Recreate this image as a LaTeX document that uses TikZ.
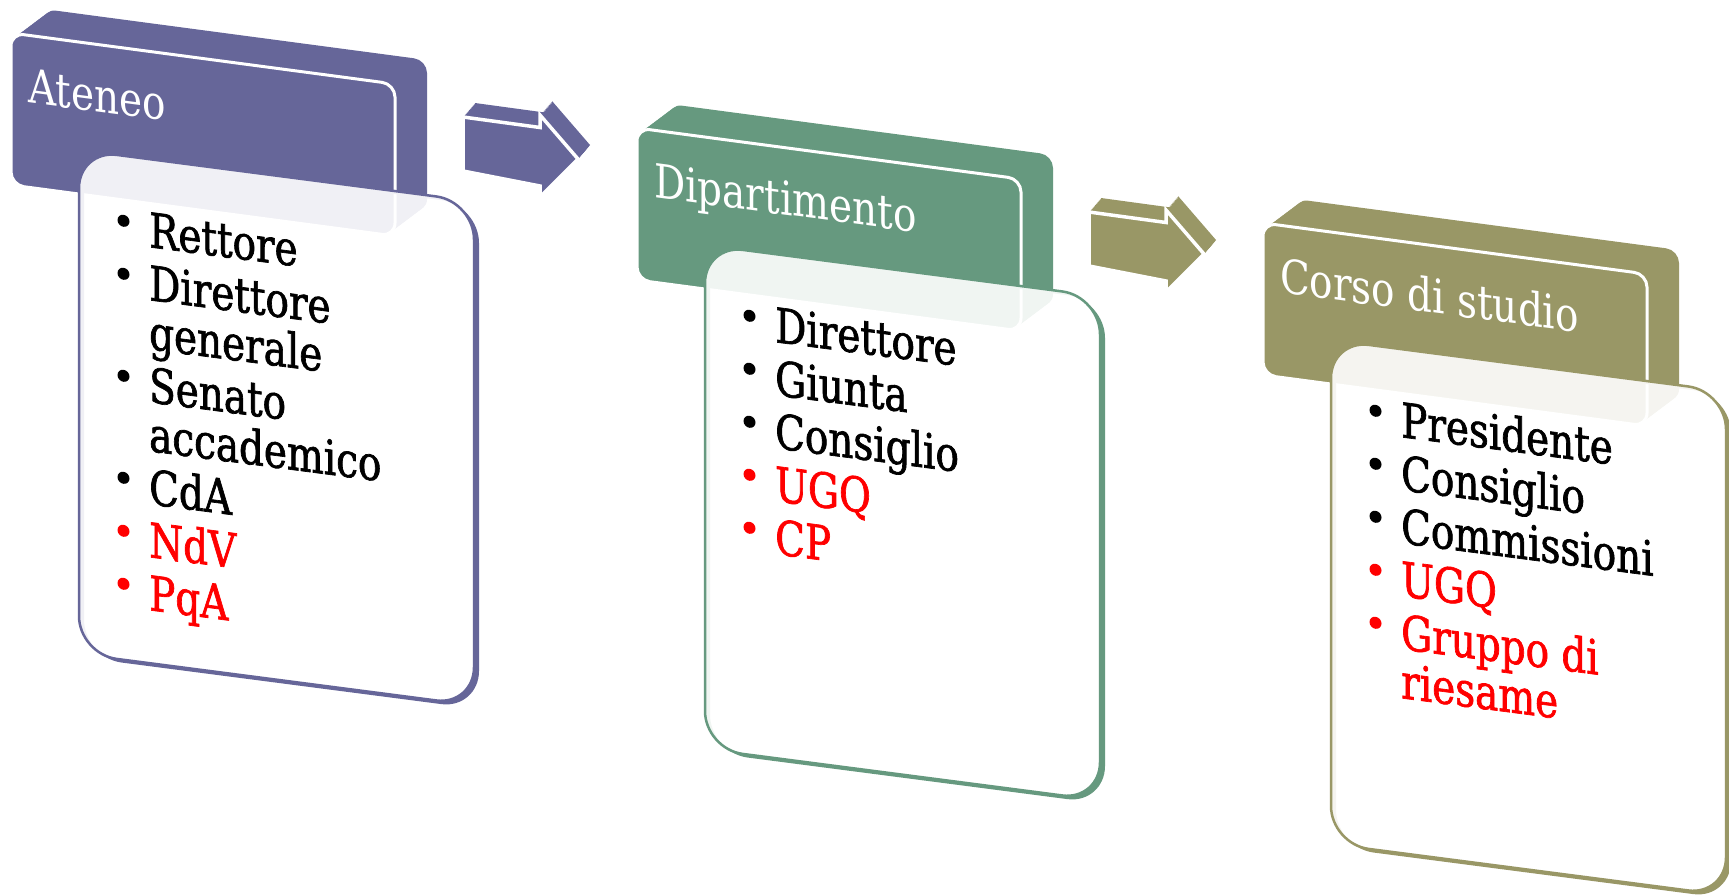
\documentclass[tikz,border=0pt]{standalone}
\usepackage{fontspec}
\setmainfont{DejaVu Serif Condensed}
\newfontfamily\hdrfont[FakeStretch=0.92]{DejaVu Serif Condensed}
\newfontfamily\bodyfont[FakeStretch=0.9, FakeBold=1.4]{DejaVu Serif Condensed}
\definecolor{cpurple}{RGB}{102,102,153}
\definecolor{cgreen}{RGB}{102,153,127}
\definecolor{colive}{RGB}{153,151,102}
\definecolor{cred}{RGB}{255,0,0}
\tikzset{
  hdrtext/.style={anchor=base west, text=white, inner sep=0pt, transform shape,
    font=\hdrfont\fontsize{47}{52}\selectfont},
  itemtext/.style={anchor=base west, inner sep=0pt, transform shape,
    font=\bodyfont\fontsize{48}{53}\selectfont},
  hdrface/.style={rounded corners=13pt},
  cardface/.style={rounded corners=38pt},
}
% header block + card for one panel: #1 colour, #2 x shift, #3 y shift
\newcommand\drawpanel[3]{%
  \begin{scope}[shift={(11+#2,-33-#3)}, cm={1,-0.133,0,1,(0,0)}]
    \foreach \t in {0,0.0625,...,1.01}{
      \fill[#1, hdrface] ({32*\t},{28.3*\t}) rectangle ++(384,-152);
    }
    \filldraw[fill=#1, draw=white, line width=3pt, hdrface] (0,0) rectangle (384,-152);
  \end{scope}
  \begin{scope}[shift={(79+#2,-150-#3)}, cm={1,-0.13,0,1,(0,0)}]
    \fill[#1, even odd rule, cardface] (5,-3) rectangle ++(395,-504) (0,0) rectangle (395,-504);
    \filldraw[fill=white, fill opacity=0.9, draw=#1, line width=2.5pt, cardface] (0,0) rectangle (395,-504);
  \end{scope}
}
\newcommand\hdrlabel[4]{% #1 name, #2 x shift, #3 y shift, #4 text
  \begin{scope}[shift={(11+#2,-33-#3)}, cm={1,-0.133,0,1,(0,0)}]
    \node[hdrtext] (#1) at (17,-67.2) {#4};
  \end{scope}}
\newcommand\bitem[4]{% #1 name, #2 baseline, #3 colour, #4 text
  \fill[#3] (44.5,{#2+23}) circle (6pt);
  \node[itemtext, text=#3] (#1) at (70,#2) {#4};}
\newcommand\contline[4]{%
  \node[itemtext, text=#3] (#1) at (70,#2) {#4};}
\newcommand\drawarrow[3]{% #1 colour, #2 x shift, #3 y shift
  \begin{scope}[shift={(#2,-#3)}]
    \foreach \t in {0,0.0625,...,1.01}{
      \fill[#1] ({463+12*\t},{-117+14*\t}) -- ({540+12*\t},{-127.5+14*\t}) -- ({540+12*\t},{-115+14*\t})
        -- ({578+12*\t},{-159+14*\t}) -- ({540+12*\t},{-197+14*\t}) -- ({540+12*\t},{-186+14*\t})
        -- ({463+12*\t},{-171+14*\t}) -- cycle;
    }
    \filldraw[fill=#1, draw=white, line width=3.5pt, line join=miter]
      (463,-117) -- (540,-127.5) -- (540,-115) -- (578,-159) -- (540,-197) -- (540,-186) -- (463,-171) -- cycle;
  \end{scope}}
\begin{document}
\begin{tikzpicture}[x=1pt,y=1pt]
\useasboundingbox (0,0) rectangle (1729,-894);
\fill[white] (0,0) rectangle (1729,-894);

% panels
\drawpanel{cpurple}{0}{0}
\drawpanel{cgreen}{626}{95}
\drawpanel{colive}{1252}{190}

% arrows between panels
\drawarrow{cpurple}{0}{0}
\drawarrow{colive}{626}{95}

% header labels
\hdrlabel{h1}{0}{0}{Ateneo}
\hdrlabel{h2}{626}{95}{Dipartimento}
\hdrlabel{h3}{1252}{190}{Corso di studio}

% card 1 items
\begin{scope}[shift={(79,-150)}, cm={1,-0.13,0,1,(0,0)}]
  \bitem{a1}{-88}{black}{Rettore}
  \bitem{a2}{-141}{black}{Direttore}
  \contline{a2b}{-190}{black}{generale}
  \bitem{a3}{-243}{black}{Senato}
  \contline{a3b}{-292}{black}{accademico}
  \bitem{a4}{-345}{black}{CdA}
  \bitem{a5}{-398}{cred}{NdV}
  \bitem{a6}{-451}{cred}{PqA}
\end{scope}

% card 2 items
\begin{scope}[shift={(79+626,-150-95)}, cm={1,-0.13,0,1,(0,0)}]
  \bitem{b1}{-88}{black}{Direttore}
  \bitem{b2}{-141}{black}{Giunta}
  \bitem{b3}{-194}{black}{Consiglio}
  \bitem{b4}{-247}{cred}{UGQ}
  \bitem{b5}{-300}{cred}{CP}
\end{scope}

% card 3 items
\begin{scope}[shift={(79+1252,-150-190)}, cm={1,-0.13,0,1,(0,0)}]
  \bitem{c1}{-88}{black}{Presidente}
  \bitem{c2}{-141}{black}{Consiglio}
  \bitem{c3}{-194}{black}{Commissioni}
  \bitem{c4}{-247}{cred}{UGQ}
  \bitem{c5}{-300}{cred}{Gruppo di}
  \contline{c5b}{-349}{cred}{riesame}
\end{scope}
\end{tikzpicture}
\end{document}
